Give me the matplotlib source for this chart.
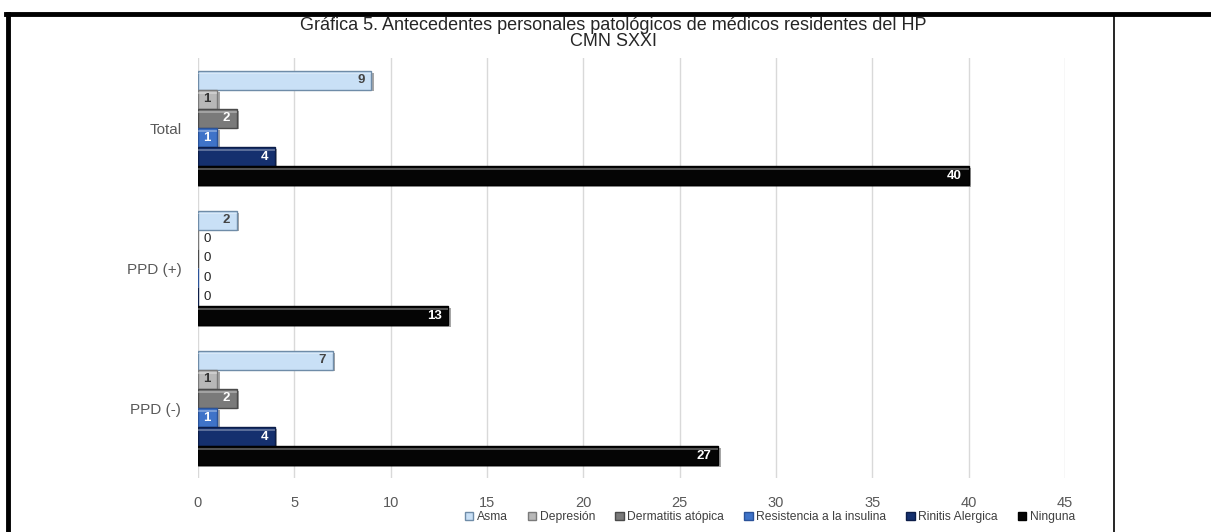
import numpy as np
import matplotlib.pyplot as plt
from matplotlib.patches import Patch
from matplotlib.lines import Line2D

plt.rcParams['font.family'] = ['Liberation Sans', 'DejaVu Sans']

# data
groups = ['Total', 'PPD (+)', 'PPD (-)']
series = ['Asma', 'Depresión', 'Dermatitis atópica', 'Resistencia a la insulina',
          'Rinitis Alergica', 'Ninguna']
asma = [9, 2, 7]
depresion = [1, 0, 1]
dermatitis = [2, 0, 2]
resistencia = [1, 0, 1]
rinitis = [4, 0, 4]
ninguna = [40, 13, 27]
values = [asma, depresion, dermatitis, resistencia, rinitis, ninguna]

# styles
face = ['#C9E0F6', '#B8B8B8', '#7A7A7A', '#3F73C8', '#15306E', '#050505']
edge = ['#6F8CA8', '#7A7A7A', '#4A4A4A', '#2A5299', '#0C1D48', '#000000']
lab_col = ['#444444', '#333333', 'white', 'white', 'white', 'white']

fig = plt.figure(figsize=(12.11, 5.32), dpi=100)
ax = fig.add_axes([198 / 1211, 54 / 532, 867 / 1211, 420 / 532])

h = 0.136
y = np.arange(len(groups))
for k, (vals, name) in enumerate(zip(values, series)):
    pos = y + (k - 2.5) * h
    # drop shadow
    ax.barh(pos + 0.012, [v + 0.12 if v else 0 for v in vals], height=h * 0.97,
            color='#000000', alpha=0.35, linewidth=0, zorder=2)
    bars = ax.barh(pos, vals, height=h * 0.97, color=face[k], edgecolor=edge[k],
                   linewidth=1.0, label=name, zorder=3)
    # light strip on top of each bar (bevel)
    ax.barh(pos - h * 0.36, vals, height=h * 0.1, color='white', alpha=0.3,
            linewidth=0, zorder=4)
    for b, v, p in zip(bars, vals, pos):
        if v == 0:
            ax.text(0.3, p, '0', va='center', ha='left', fontsize=9.5, color='#222222',
                    zorder=5)
        else:
            ax.text(v - 0.35, p, str(v), va='center', ha='right', fontsize=9.5,
                    color=lab_col[k], fontweight='bold', zorder=5)

ax.set_xlim(0, 45)
ax.set_ylim(2.5, -0.5)
ax.set_xticks(np.arange(0, 46, 5))
ax.set_yticks(y)
ax.set_yticklabels(groups, fontsize=11)
ax.tick_params(length=0, colors='#595959')
ax.tick_params(axis='x', pad=13, labelsize=10.5)
ax.tick_params(axis='y', pad=12)
ax.grid(axis='x', color='#D9D9D9', linewidth=1, zorder=0)
for s in ax.spines.values():
    s.set_visible(False)

fig.text(613 / 1211, 1 - 25 / 532,
         'Gráfica 5. Antecedentes personales patológicos de médicos residentes del HP',
         ha='center', va='center', fontsize=13, color='#262626')
fig.text(613 / 1211, 1 - 42 / 532, 'CMN SXXI',
         ha='center', va='center', fontsize=13, color='#262626')

handles = [Patch(facecolor=face[k], edgecolor=edge[k], label=series[k]) for k in range(6)]
fig.legend(handles=handles, loc='center', bbox_to_anchor=(770 / 1211, 1 - 517 / 532),
           ncol=6, frameon=False, fontsize=8.7, handlelength=0.7, handleheight=0.7,
           handletextpad=0.3, columnspacing=1.65, labelcolor='#404040')

# page frame lines
fig.add_artist(Line2D([6 / 1211, 1], [1 - 14 / 532, 1 - 14 / 532], color='black', lw=3.5))
fig.add_artist(Line2D([8 / 1211, 8 / 1211], [0, 1 - 14 / 532], color='black', lw=3.5))
fig.add_artist(Line2D([1114 / 1211, 1114 / 1211], [0, 1 - 14 / 532], color='black', lw=1.2))

fig.savefig('out.png', dpi=100)
